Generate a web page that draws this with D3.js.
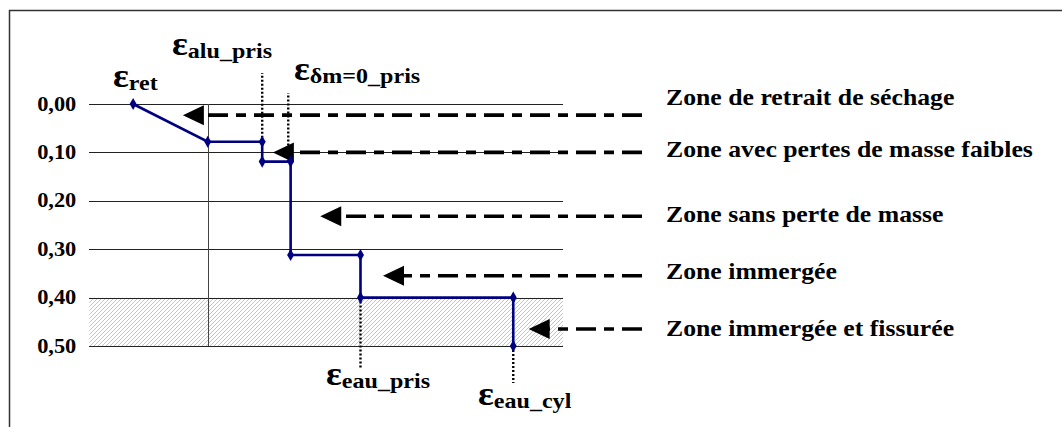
<!DOCTYPE html>
<meta charset="utf-8">
<style>
  body { margin: 0; background: #fff; }
  text { font-family: "Liberation Serif", "Times New Roman", serif; font-weight: bold; fill: #000; }
  .grid line { stroke: #222; stroke-width: 1px; shape-rendering: crispEdges; }
  .grid path { stroke-width: 0; }
  .curve { fill: none; stroke: #000080; stroke-width: 2.6px; }
  .leader { stroke: #000; stroke-width: 2.4px; stroke-dasharray: 2,2; }
  .zarrow { stroke: #000; stroke-width: 3.6px; stroke-dasharray: 20,8,10,8; }
</style>
<body>
<script src="https://d3js.org/d3.v7.min.js"></script>
<div id="chart"></div>
<script>

// strain path (x in arbitrary time units, y = deformation)
var xVals = [3.7, 10.0, 14.6, 14.6, 17.0, 17.0, 22.9, 22.9, 35.8, 35.8];
var yVals = [0.00, 0.078, 0.078, 0.119, 0.119, 0.312, 0.312, 0.40, 0.40, 0.50];
var yTicks = [0.00, 0.10, 0.20, 0.30, 0.40, 0.50];
var xGrid = [10];

// zone arrows : tip x and y in data units
var zoneNames = ["Zone de retrait de séchage", "Zone avec pertes de masse faibles",
                 "Zone sans perte de masse", "Zone immergée", "Zone immergée et fissurée"];
var zoneTipX = [7.9, 15.5, 19.5, 24.8, 37.1];
var zoneArrowY = [0.023, 0.10, 0.232, 0.355, 0.465];
var zoneLabelY = [105, 157, 222, 279, 336];

// epsilon labels
var epsSub = ["ret", "alu_pris", "δm=0_pris", "eau_pris", "eau_cyl"];
var epsPos = [[113, 87], [172, 55], [294, 80], [326, 385], [478, 405]];

// dotted leaders : x and from value to pixel top/bottom
var leaderX = [14.6, 16.8, 22.9, 35.8];
var leaderFrom = [0.078, 0.119, 0.40, 0.50];
var leaderTo = [73, 93, 368, 383];

var W = 1062, H = 427;
var pLeft = 89.3, pRight = 563, pTop = 104, pBottom = 346;
var sx = 1.12;

var x = d3.scaleLinear().domain([0, 40]).range([pLeft, pRight]);
var y = d3.scaleLinear().domain([0, 0.5]).range([pTop, pBottom]);

var svg = d3.select("#chart").append("svg")
    .attr("width", W)
    .attr("height", H);

var defs = svg.append("defs");
var pat = defs.append("pattern")
    .attr("id", "hatch")
    .attr("patternUnits", "userSpaceOnUse")
    .attr("width", 4).attr("height", 4);
pat.append("rect").attr("width", 4).attr("height", 4).attr("fill", "#fff");
pat.append("path")
    .attr("d", "M-1,1 l2,-2 M0,4 l4,-4 M3,5 l2,-2")
    .attr("stroke", "#b4b4b4").attr("stroke-width", 0.8);

// outer frame
svg.append("rect")
    .attr("x", 9.5).attr("y", 10.5)
    .attr("width", 1200).attr("height", 600)
    .attr("fill", "none").attr("stroke", "#333").attr("stroke-width", 1.5);

// hatched zone
svg.append("rect")
    .attr("x", pLeft).attr("y", y(0.40))
    .attr("width", pRight - pLeft).attr("height", y(0.50) - y(0.40))
    .attr("fill", "url(#hatch)");

// gridlines
svg.append("g")
    .attr("class", "grid")
    .attr("transform", "translate(" + pLeft + ",0)")
    .call(d3.axisLeft(y).tickValues(yTicks).tickSize(-(pRight - pLeft)).tickFormat(""));

svg.append("g")
    .attr("class", "grid")
    .attr("transform", "translate(0," + pBottom + ")")
    .call(d3.axisBottom(x).tickValues(xGrid).tickSize(-(pBottom - pTop)).tickFormat(""))
    .selectAll("line").style("stroke", "#444");

// y labels
var gy = svg.append("g")
    .attr("transform", "translate(" + pLeft + ",0)")
    .call(d3.axisLeft(y).tickValues(yTicks).tickSize(0).tickPadding(11.6)
      .tickFormat(function(d) { return d.toFixed(2).replace(".", ","); }));
gy.select(".domain").remove();
gy.selectAll("text")
    .attr("dy", "0.3em")
    .attr("transform", "scale(" + sx + ",1)")
    .style("font-size", "20px")
    .style("font-family", "'Liberation Serif', serif");

// dotted leaders
svg.selectAll(".leader")
    .data(leaderX)
    .enter().append("line")
    .attr("class", "leader")
    .attr("x1", function(d) { return x(d); })
    .attr("x2", function(d) { return x(d); })
    .attr("y1", function(d, i) { return y(leaderFrom[i]); })
    .attr("y2", function(d, i) { return leaderTo[i]; });

// zone arrows
var arrowEnd = 642;
zoneNames.forEach(function(name, i) {
  var ty = y(zoneArrowY[i]), tx = x(zoneTipX[i]);
  svg.append("line")
      .attr("class", "zarrow")
      .attr("x1", arrowEnd).attr("y1", ty)
      .attr("x2", tx + 18).attr("y2", ty);
  svg.append("path")
      .attr("d", "M" + tx + "," + ty + "L" + (tx + 21) + "," + (ty - 10) + "L" + (tx + 21) + "," + (ty + 10) + "Z")
      .attr("fill", "#000");
  svg.append("text")
      .attr("transform", "translate(666," + zoneLabelY[i] + ") scale(" + sx + ",1)")
      .style("font-size", "23px")
      .text(name);
});

// strain curve
var pts = xVals.map(function(d, i) { return [x(d), y(yVals[i])]; });
svg.append("path")
    .attr("class", "curve")
    .attr("d", d3.line()(pts));

svg.selectAll(".pt")
    .data(pts)
    .enter().append("path")
    .attr("transform", function(d) { return "translate(" + d[0] + "," + d[1] + ")"; })
    .attr("d", d3.symbol().type(d3.symbolDiamond).size(42))
    .attr("fill", "#000080");

// epsilon labels
epsSub.forEach(function(s, i) {
  var t = svg.append("text")
      .attr("transform", "translate(" + epsPos[i][0] + "," + epsPos[i][1] + ") scale(" + sx + ",1)");
  t.append("tspan").style("font-size", "33px").text("ε");
  t.append("tspan").style("font-size", "21.5px").attr("dy", 3).text(s);
});

</script>
</body>
